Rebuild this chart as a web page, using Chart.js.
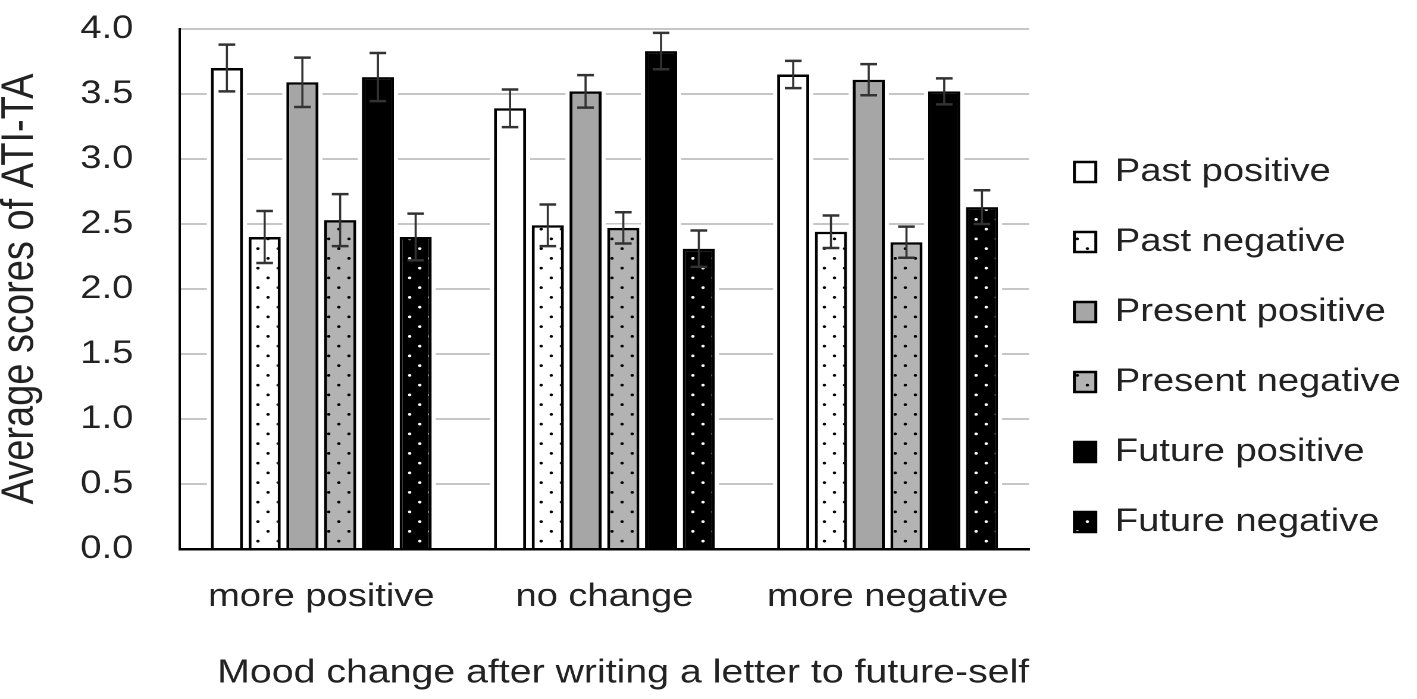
<!DOCTYPE html>
<html>
<head>
<meta charset="utf-8">
<script src="https://cdn.jsdelivr.net/npm/chart.js@4.4.0/dist/chart.umd.min.js"></script>
<style>
    html, body { margin: 0; padding: 0; background: #fff; overflow: hidden; }
    /* the reference is stretched sideways, so draw narrow and widen it */
    #wrap { width: 1191px; height: 699px; transform: scaleX(1.19); transform-origin: 0 0; }
</style>
</head>
<body>
<div id="wrap"><canvas id="graficoAti"></canvas></div>
<script>
var categorias = ['more positive', 'no change', 'more negative'];

var pastPositive = [3.70, 3.39, 3.65];
var pastNegative = [2.40, 2.49, 2.44];
var presentPositive = [3.59, 3.52, 3.61];
var presentNegative = [2.53, 2.47, 2.36];
var futurePositive = [3.63, 3.83, 3.52];
var futureNegative = [2.40, 2.31, 2.63];

var errPastPositive = [0.18, 0.145, 0.105];
var errPastNegative = [0.20, 0.16, 0.125];
var errPresentPositive = [0.19, 0.125, 0.12];
var errPresentNegative = [0.20, 0.12, 0.12];
var errFuturePositive = [0.185, 0.14, 0.10];
var errFutureNegative = [0.18, 0.14, 0.13];

Chart.defaults.font.family = '"Liberation Sans", Arial, sans-serif';

// dotted fill, tile drawn at 2x for the devicePixelRatio below
function pontilhado(fundo, ponto) {
    var c = document.createElement('canvas');
    c.width = 34;
    c.height = 39;
    var g = c.getContext('2d');
    g.fillStyle = fundo;
    g.fillRect(0, 0, 34, 39);
    g.fillStyle = ponto;
    [[8.5, 9.75], [25.5, 29.25]].forEach(function (p) {
        g.beginPath();
        g.arc(p[0], p[1], 2.8, 0, Math.PI * 2);
        g.fill();
    });
    var pat = g.createPattern(c, 'repeat');
    pat.setTransform(new DOMMatrix().scale(0.5));
    return pat;
}

// white gap round each bar, the gridlines stop short of it
var halo = {
    id: 'halo',
    beforeDatasetsDraw: function (chart) {
        var ctx = chart.ctx;
        ctx.save();
        ctx.fillStyle = '#fff';
        chart.data.datasets.forEach(function (ds, i) {
            chart.getDatasetMeta(i).data.forEach(function (bar) {
                var p = bar.getProps(['x', 'y', 'base', 'width'], true);
                ctx.fillRect(p.x - p.width / 2 - 3.4, p.y - 3.4, p.width + 6.8, p.base - p.y + 3.4);
            });
        });
        ctx.restore();
    }
};

var barrasErro = {
    id: 'barrasErro',
    afterDatasetsDraw: function (chart) {
        var ctx = chart.ctx;
        var y = chart.scales.y;
        ctx.save();
        ctx.strokeStyle = '#333';
        chart.data.datasets.forEach(function (ds, i) {
            var meta = chart.getDatasetMeta(i);
            if (meta.hidden) return;
            meta.data.forEach(function (bar, j) {
                var topo = y.getPixelForValue(ds.data[j] + ds.erros[j]);
                var base = y.getPixelForValue(ds.data[j] - ds.erros[j]);
                ctx.lineWidth = 1.8;
                ctx.beginPath();
                ctx.moveTo(bar.x, topo);
                ctx.lineTo(bar.x, base);
                ctx.stroke();
                ctx.lineWidth = 2.5;
                ctx.beginPath();
                ctx.moveTo(bar.x - 7, topo);
                ctx.lineTo(bar.x + 7, topo);
                ctx.moveTo(bar.x - 7, base);
                ctx.lineTo(bar.x + 7, base);
                ctx.stroke();
            });
        });
        ctx.restore();
    }
};

function serie(nome, valores, erros, cor) {
    return {
        label: nome,
        data: valores,
        erros: erros,
        backgroundColor: cor,
        borderColor: '#000',
        borderWidth: 2.5,
        categoryPercentage: 0.8,
        barPercentage: 0.85
    };
}

var ctxAti = document.getElementById('graficoAti');

var chartAti = new Chart(ctxAti, {
    type: 'bar',
    data: {
        labels: categorias,
        datasets: [
            serie('Past positive', pastPositive, errPastPositive, '#ffffff'),
            serie('Past negative', pastNegative, errPastNegative, pontilhado('#ffffff', '#000')),
            serie('Present positive', presentPositive, errPresentPositive, '#a6a6a6'),
            serie('Present negative', presentNegative, errPresentNegative, pontilhado('#b3b3b3', '#000')),
            serie('Future positive', futurePositive, errFuturePositive, '#000000'),
            serie('Future negative', futureNegative, errFutureNegative, pontilhado('#000000', '#fff'))
        ]
    },
    options: {
        responsive: true,
        maintainAspectRatio: false,
        animation: false,
        devicePixelRatio: 2,
        layout: {
            padding: { bottom: 5, right: 4 }
        },
        plugins: {
            tooltip: { enabled: false },
            legend: {
                display: true,
                position: 'right',
                align: 'center',
                maxWidth: 400,
                labels: {
                    boxWidth: 18,
                    boxHeight: 20,
                    padding: 38,
                    color: '#222',
                    font: { size: 32 }
                }
            }
        },
        scales: {
            x: {
                grid: { display: false, drawTicks: false },
                border: { color: '#000', width: 2.5, z: 1 },
                ticks: {
                    color: '#222',
                    padding: 29,
                    font: { size: 32 }
                },
                title: {
                    display: true,
                    align: 'end',
                    text: 'Mood change after writing a letter to future-self',
                    color: '#222',
                    font: { size: 33 },
                    padding: { top: 0, bottom: 1 }
                },
                afterFit: function (s) {
                    s.height = 145;
                }
            },
            y: {
                min: 0,
                max: 4,
                grid: {
                    drawTicks: false,
                    lineWidth: 2,
                    color: function (c) {
                        return c.tick && c.tick.value === 0 ? 'rgba(0,0,0,0)' : '#c6c6c6';
                    }
                },
                border: { color: '#000', width: 2, z: 1 },
                ticks: {
                    stepSize: 0.5,
                    color: '#222',
                    padding: 39,
                    font: { size: 32 },
                    callback: function (v) {
                        return Number(v).toFixed(1);
                    }
                },
                title: {
                    display: true,
                    text: 'Average scores of ATI-TA',
                    color: '#222',
                    font: { size: 38, lineHeight: 0.9 },
                    padding: { top: 0, bottom: 0 }
                },
                afterFit: function (s) {
                    s.width = 151;
                    s.paddingTop = 29;
                }
            }
        }
    },
    plugins: [halo, barrasErro]
});
</script>
</body>
</html>
